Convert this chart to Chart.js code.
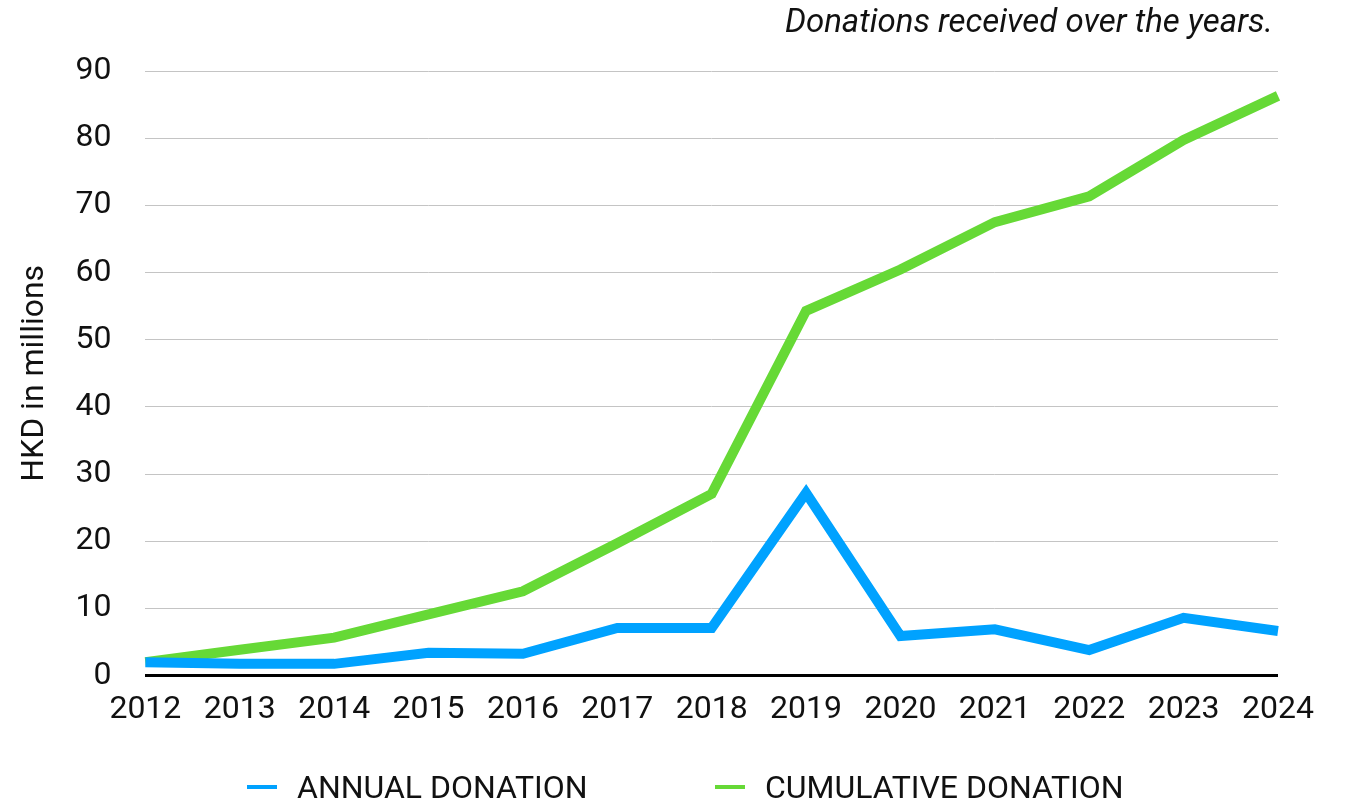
<!DOCTYPE html>
<html>
<head>
<meta charset="utf-8">
<script src="https://cdn.jsdelivr.net/npm/chart.js@4.4.1/dist/chart.umd.min.js"></script>
<style>
    body { margin: 0; background: #fff; font-family: Roboto, sans-serif; }
    #wrap { position: relative; width: 1345px; height: 805px; }
    #legend {
        position: absolute; left: 0; top: 768px; width: 1345px;
        font-family: Roboto, sans-serif; font-size: 32px; color: #111;
    }
    .item { position: absolute; display: flex; align-items: center; white-space: nowrap; }
    .swatch { width: 30px; height: 4px; margin-right: 20px; }
</style>
</head>
<body>
<div id="wrap">
    <canvas id="donationChart" width="1345" height="805"></canvas>
    <div id="legend"></div>
</div>
<script>
// Data
const years = ['2012', '2013', '2014', '2015', '2016', '2017', '2018', '2019', '2020', '2021', '2022', '2023', '2024'];
const annualDonation = [2.0, 1.75, 1.75, 3.4, 3.25, 7.1, 7.1, 27.2, 5.9, 6.9, 3.8, 8.6, 6.65];
const cumulativeDonation = [2.0, 3.85, 5.65, 9.1, 12.55, 19.7, 27.05, 54.3, 60.45, 67.5, 71.35, 79.75, 86.3];
const seriesNames = ['ANNUAL DONATION', 'CUMULATIVE DONATION'];
const seriesColors = ['#00a2ff', '#66d936'];
const chartTitle = 'Donations received over the years.';

// title drawn right-aligned to the plot area
const cornerTitle = {
    id: 'cornerTitle',
    afterDraw(chart) {
        const ctx = chart.ctx;
        ctx.save();
        ctx.font = 'italic 33px Roboto';
        ctx.fillStyle = '#111';
        ctx.textAlign = 'right';
        ctx.textBaseline = 'middle';
        ctx.fillText(chartTitle, chart.chartArea.right - 5, 24);
        ctx.restore();
    }
};

const ctx = document.getElementById('donationChart').getContext('2d');
new Chart(ctx, {
    type: 'line',
    data: {
        labels: years,
        datasets: [
            {
                label: seriesNames[0],
                data: annualDonation,
                borderColor: seriesColors[0],
                backgroundColor: seriesColors[0],
                borderWidth: 10,
                pointRadius: 0,
                tension: 0
            },
            {
                label: seriesNames[1],
                data: cumulativeDonation,
                borderColor: seriesColors[1],
                backgroundColor: seriesColors[1],
                borderWidth: 10,
                pointRadius: 0,
                tension: 0
            }
        ]
    },
    options: {
        responsive: false,
        animation: false,
        devicePixelRatio: 1,
        layout: { padding: { top: 71, left: 5, right: 67, bottom: 69 } },
        plugins: {
            legend: { display: false },
            tooltip: { enabled: false }
        },
        scales: {
            x: {
                grid: { display: false },
                border: { display: false },
                ticks: {
                    font: { family: 'Roboto', size: 32 },
                    color: '#111',
                    padding: 7,
                    maxRotation: 0,
                    autoSkip: false
                }
            },
            y: {
                min: 0,
                max: 90,
                border: { display: false },
                grid: {
                    drawTicks: false,
                    color: (c) => c.tick.value === 0 ? '#000' : '#c4c4c4',
                    lineWidth: (c) => c.tick.value === 0 ? 3 : 1
                },
                ticks: {
                    stepSize: 10,
                    font: { family: 'Roboto', size: 32 },
                    color: '#111',
                    padding: 34
                },
                title: {
                    display: true,
                    text: 'HKD in millions',
                    font: { family: 'Roboto', size: 32 },
                    color: '#111',
                    padding: { top: 11, bottom: -13 }
                }
            }
        }
    },
    plugins: [cornerTitle]
});

// legend as plain text below the chart
const legendDiv = document.getElementById('legend');
const legendLeft = [247, 715];
seriesNames.forEach((name, i) => {
    legendDiv.insertAdjacentHTML('beforeend',
        `<div class="item" style="left:${legendLeft[i]}px"><span class="swatch" style="background:${seriesColors[i]}"></span>${name}</div>`);
});
</script>
</body>
</html>
